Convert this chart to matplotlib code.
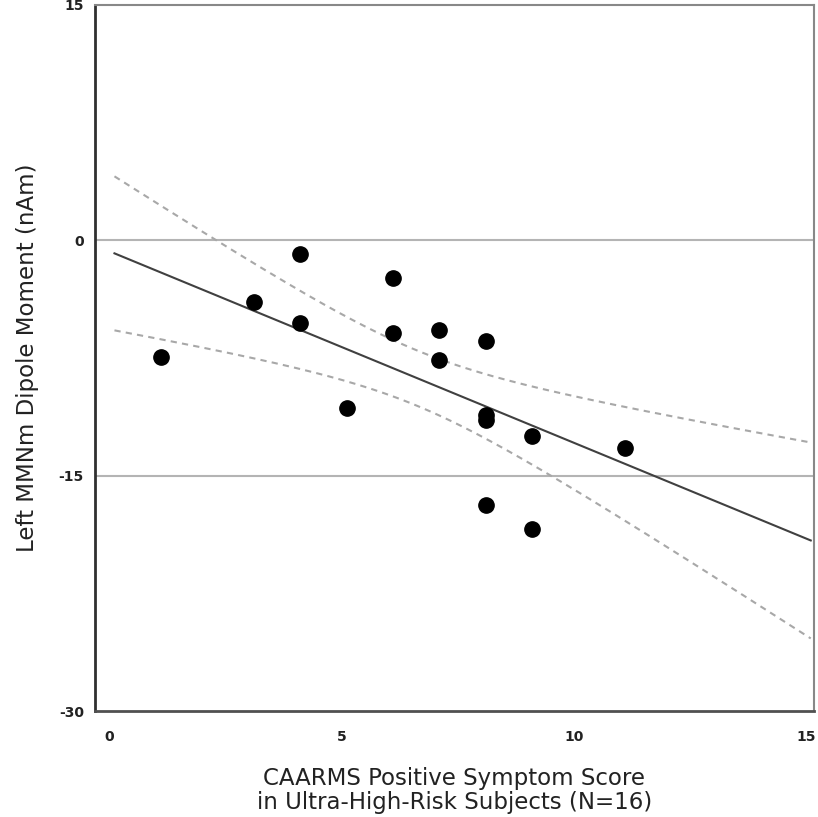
import numpy as np
import matplotlib.pyplot as plt
import matplotlib.transforms as mtransforms

plt.rcParams["axes.unicode_minus"] = False

# CAARMS positive symptom score vs left MMNm dipole moment (UHR subjects)
caarms = [1, 3, 4, 4, 5, 6, 6, 7, 7, 8, 8, 8, 8, 9, 9, 11]
dipole = [-7.46, -3.95, -0.89, -5.29, -10.71, -2.42, -5.93, -5.74, -7.65,
          -6.44, -11.15, -11.45, -16.89, -12.49, -18.42, -13.26]

x_ticks = [0, 5, 10, 15]
y_ticks = [15, 0, -15, -30]
t_crit = 1.761  # two-sided 90%, df = 14

x = np.array(caarms, dtype=float)
y = np.array(dipole)
n = len(x)
slope, icpt = np.polyfit(x, y, 1)
resid = y - (slope * x + icpt)
s = np.sqrt(np.sum(resid ** 2) / (n - 2))
sxx = np.sum((x - x.mean()) ** 2)

xs = np.linspace(0, 15, 200)
fit = slope * xs + icpt
half = t_crit * s * np.sqrt(1.0 / n + (xs - x.mean()) ** 2 / sxx)

fig = plt.figure(figsize=(8.18, 8.17), dpi=100)
ax = fig.add_axes([0.1161, 0.1297, 0.879, 0.8642])

ax.axhline(0, color="#b4b4b4", lw=1.5, zorder=1)
ax.axhline(-15, color="#b4b4b4", lw=1.5, zorder=1)
ax.plot(xs, fit + half, color="#a8a8a8", lw=1.5, ls=(0, (3, 2.5)), zorder=2)
ax.plot(xs, fit - half, color="#a8a8a8", lw=1.5, ls=(0, (3, 2.5)), zorder=2)
ax.plot(xs, fit, color="#404040", lw=1.5, zorder=3)
ax.plot(x, y, "o", color="black", ms=11, zorder=4)

ax.set_xlim(-0.42, 15.07)
ax.set_ylim(-30, 15)
ax.set_xticks(x_ticks)
ax.set_yticks(y_ticks)
ax.tick_params(length=0, labelsize=10, colors="#222222")
ax.tick_params(axis="x", pad=14)
ax.tick_params(axis="y", pad=8)
shift = mtransforms.ScaledTranslation(-5 / 100, 0, fig.dpi_scale_trans)
for lab in ax.get_xticklabels():
    lab.set_transform(lab.get_transform() + shift)
    lab.set_fontweight("bold")
for lab in ax.get_yticklabels():
    lab.set_fontweight("bold")

ax.spines["left"].set_color("#303030")
ax.spines["left"].set_linewidth(2)
ax.spines["bottom"].set_color("#505050")
ax.spines["bottom"].set_linewidth(2)
ax.spines["top"].set_color("#888888")
ax.spines["top"].set_linewidth(1.5)
ax.spines["right"].set_color("#888888")
ax.spines["right"].set_linewidth(1.5)

ax.set_xlabel("CAARMS Positive Symptom Score\nin Ultra-High-Risk Subjects (N=16)",
              fontsize=16.5, color="#222222", labelpad=16, linespacing=1.05)
ax.set_ylabel("Left MMNm Dipole Moment (nAm)", fontsize=16.5, color="#222222",
              labelpad=14)

fig.savefig("out.png", dpi=100)
